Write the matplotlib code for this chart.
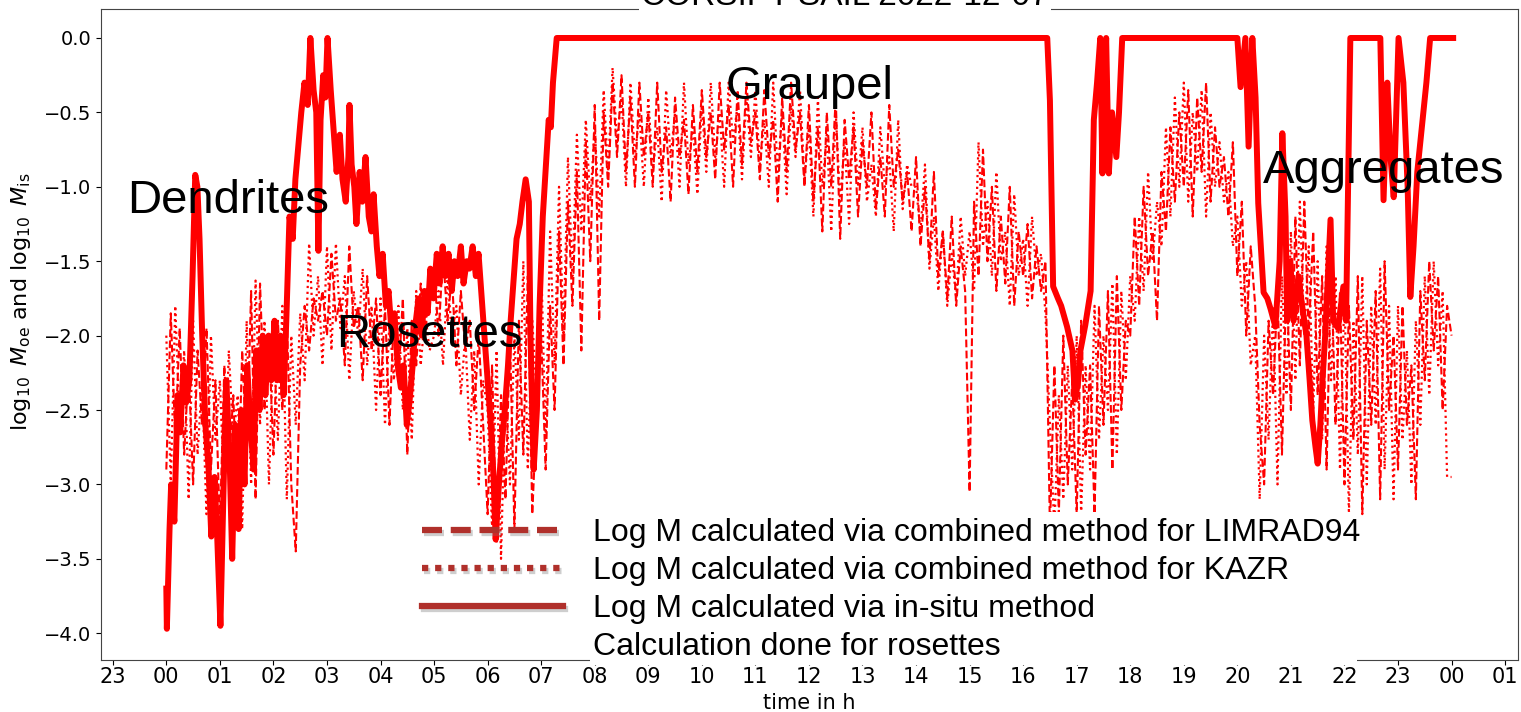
import numpy as np
import matplotlib.pyplot as plt
import matplotlib.patheffects as pe
from matplotlib.lines import Line2D
from matplotlib.patches import Rectangle

# radar retrievals on a 5-minute grid, 00 h to 24 h
t_radar = np.arange(289) / 12.0

logm_limrad = [
    -2.9, -1.85, -2.7, -1.95, -2.8, -2.2, -3.0, -2.1, -2.6, -1.95, -2.9, -2.3,
    -3.3, -2.2, -2.9, -2.4, -3.2, -2.1, -2.8, -1.7, -3.1, -1.65, -2.5, -2.0,
    -2.8, -1.9, -2.5, -1.85, -3.0, -3.45, -2.2, -1.8, -2.1, -1.75, -1.9, -1.7,
    -2.0, -1.45, -1.9, -1.75, -2.2, -1.4, -1.95, -1.8, -2.3, -1.6, -2.1, -1.75,
    -2.4, -1.8, -2.6, -1.85, -2.3, -1.75, -2.8, -1.9, -2.2, -1.65, -2.0, -1.6,
    -1.55, -2.0, -1.45, -1.9, -1.6, -2.2, -1.7, -2.1, -1.9, -2.5, -2.0, -2.6,
    -3.2, -2.2, -3.4, -2.4, -3.1, -2.0, -3.3, -1.9, -2.8, -1.6, -3.2, -2.5,
    -2.0, -2.9, -1.8, -2.5, -1.3, -2.2, -1.1, -1.8, -0.9, -2.1, -0.7, -1.5,
    -0.45, -1.9, -0.5, -1.0, -0.3, -0.8, -0.25, -0.9, -0.4, -1.0, -0.3, -0.8,
    -0.5, -1.0, -0.3, -0.9, -0.6, -1.1, -0.4, -0.8, -0.55, -1.05, -0.45, -0.9,
    -0.35, -0.8, -0.5, -0.95, -0.3, -0.75, -0.45, -1.0, -0.35, -0.85, -0.3, -0.7,
    -0.5, -0.95, -0.35, -0.8, -0.55, -1.1, -0.4, -0.9, -0.3, -0.75, -0.5, -1.0,
    -0.45, -1.1, -0.6, -1.3, -0.5, -1.0, -0.4, -1.35, -0.55, -0.95, -0.6, -1.2,
    -0.7, -1.0, -0.5, -1.15, -0.8, -1.2, -0.45, -1.0, -0.75, -1.1, -0.9, -1.3,
    -0.8, -1.4, -1.0, -1.5, -0.9, -1.6, -1.3, -1.75, -1.2, -1.8, -1.4, -1.7,
    -3.05, -1.1, -1.6, -0.75, -1.5, -1.0, -1.7, -1.2, -1.65, -1.0, -1.8, -1.3,
    -1.6, -1.25, -1.75, -1.4, -1.7, -1.5, -3.3, -2.2, -3.2, -2.0, -3.0, -2.3,
    -3.2, -1.9, -2.8, -2.2, -3.2, -1.8, -2.6, -1.7, -2.9, -1.6, -2.5, -1.9,
    -2.0, -1.2, -1.8, -1.0, -1.6, -1.3, -1.9, -0.9, -1.3, -0.6, -1.1, -0.5,
    -1.0, -0.35, -1.2, -0.4, -0.9, -0.3, -1.1, -0.6, -1.0, -0.8, -1.2, -0.7,
    -1.6, -1.1, -2.0, -1.4, -1.8, -2.6, -3.0, -1.9, -2.4, -1.7, -2.8, -1.6,
    -2.5, -1.2, -2.2, -1.1, -2.0, -1.3, -2.4, -1.6, -2.9, -1.5, -2.6, -1.7,
    -3.0, -1.8, -2.7, -1.6, -3.2, -1.9, -2.6, -1.7, -3.1, -1.5, -2.5, -2.0,
    -2.9, -1.8, -2.6, -2.2, -3.1, -1.7, -2.3, -1.5, -2.1, -1.6, -2.5, -1.8,
    -2.0,
]

logm_kazr = [
    -2.0, -3.0, -1.8, -2.6, -2.1, -3.1, -1.9, -2.8, -2.3, -3.2, -2.0, -2.7,
    -2.3, -3.1, -2.1, -2.7, -2.4, -3.3, -1.9, -3.0, -1.63, -2.6, -1.9, -3.0,
    -2.0, -2.7, -1.8, -3.1, -2.0, -2.6, -1.85, -2.3, -1.38, -2.0, -1.6, -2.2,
    -1.4, -2.1, -1.38, -1.95, -1.6, -2.3, -1.7, -2.0, -1.55, -2.2, -1.8, -2.5,
    -1.75, -2.6, -1.9, -2.3, -1.8, -2.5, -1.95, -2.7, -1.7, -2.2, -1.85, -2.1,
    -2.0, -1.7, -2.2, -1.6, -2.0, -1.8, -2.4, -2.0, -2.7, -2.1, -3.0, -2.3,
    -2.5, -3.3, -2.1, -3.5, -2.3, -3.0, -2.0, -2.7, -1.5, -2.9, -1.9, -2.4,
    -1.5, -2.7, -1.3, -2.2, -1.0, -2.0, -0.8, -1.6, -0.65, -1.3, -0.55, -1.1,
    -0.6, -1.2, -0.35, -0.9, -0.2, -0.7, -0.4, -1.0, -0.3, -0.8, -0.5, -1.0,
    -0.4, -0.9, -0.6, -1.1, -0.35, -0.8, -0.5, -1.0, -0.3, -0.85, -0.6, -1.05,
    -0.45, -0.9, -0.3, -0.8, -0.5, -1.0, -0.3, -0.7, -0.45, -0.95, -0.4, -0.8,
    -0.35, -0.85, -0.55, -1.0, -0.3, -0.9, -0.5, -1.05, -0.45, -0.8, -0.35, -0.95,
    -0.6, -1.2, -0.4, -1.0, -0.65, -1.3, -0.5, -1.1, -0.7, -1.25, -0.5, -1.0,
    -0.6, -1.1, -0.85, -1.2, -0.6, -1.0, -0.8, -1.3, -0.55, -1.15, -0.85, -1.0,
    -1.0, -1.3, -0.85, -1.55, -1.2, -1.7, -1.3, -1.8, -1.45, -1.75, -1.2, -1.6,
    -1.3, -1.7, -0.7, -1.4, -1.1, -1.6, -0.9, -1.5, -1.3, -1.8, -1.05, -1.6,
    -1.35, -1.8, -1.2, -1.6, -1.45, -1.85, -2.6, -3.3, -2.4, -3.1, -2.2, -2.9,
    -2.0, -3.2, -2.2, -2.9, -1.8, -2.7, -2.0, -2.5, -1.65, -2.8, -1.7, -2.3,
    -1.6, -1.9, -1.2, -1.7, -0.9, -1.5, -1.1, -1.4, -0.6, -1.2, -0.4, -1.0,
    -0.3, -1.1, -0.5, -0.9, -0.35, -1.2, -0.5, -1.0, -0.7, -1.1, -0.9, -1.4,
    -1.2, -1.8, -1.5, -2.2, -2.0, -3.1, -2.0, -2.7, -1.8, -3.0, -1.6, -2.4,
    -1.3, -2.3, -1.1, -2.0, -1.4, -2.5, -1.5, -2.7, -1.4, -2.3, -1.6, -2.9,
    -1.7, -3.2, -1.9, -2.8, -1.6, -3.0, -1.8, -2.6, -1.55, -2.9, -1.8, -3.1,
    -1.8, -2.7, -2.1, -3.0, -1.9, -2.6, -1.6, -2.4, -1.5, -2.2, -1.7, -2.95,
    -2.95,
]

# in-situ retrieval, irregular sampling (hours, log10 M)
t_insitu = [
    0.00, 0.01, 0.06, 0.09, 0.15, 0.21, 0.26, 0.32, 0.37, 0.43, 0.49, 0.54,
    0.58, 0.62, 0.67, 0.73, 0.79, 0.84, 0.90, 0.95, 1.01, 1.07, 1.12, 1.18,
    1.23, 1.29, 1.35, 1.40, 1.46, 1.51, 1.57, 1.63, 1.68, 1.74, 1.80, 1.85,
    1.91, 1.96, 2.02, 2.07, 2.13, 2.19, 2.24, 2.30, 2.36, 2.41, 2.47, 2.52,
    2.58, 2.64, 2.69, 2.75, 2.80, 2.84, 2.88, 2.93, 2.97, 3.01, 3.07, 3.12,
    3.18, 3.24, 3.29, 3.35, 3.40, 3.42, 3.46, 3.51, 3.55, 3.61, 3.66, 3.72,
    3.78, 3.83, 3.87, 3.93, 3.98, 4.04, 4.10, 4.15, 4.21, 4.26, 4.32, 4.38,
    4.43, 4.49, 4.54, 4.60, 4.66, 4.71, 4.77, 4.82, 4.88, 4.93, 4.99, 5.05,
    5.10, 5.16, 5.21, 5.27, 5.33, 5.38, 5.44, 5.50, 5.55, 5.61, 5.66, 5.72,
    5.78, 5.83, 5.89, 5.94, 6.00, 6.06, 6.11, 6.15, 6.21, 6.26, 6.32, 6.38,
    6.43, 6.49, 6.54, 6.60, 6.65, 6.71, 6.77, 6.80, 6.86, 6.92, 6.97, 7.03,
    7.08, 7.14, 7.18, 7.22, 7.29, 16.45, 16.50, 16.56, 16.65, 16.71, 16.82, 16.92,
    16.97, 17.03, 17.07, 17.16, 17.26, 17.32, 17.38, 17.44, 17.48, 17.51, 17.55, 17.60,
    17.66, 17.74, 17.79, 17.85, 20.00, 20.06, 20.15, 20.21, 20.28, 20.34, 20.39, 20.49,
    20.56, 20.62, 20.71, 20.79, 20.84, 20.90, 20.93, 20.99, 21.05, 21.14, 21.21, 21.29,
    21.35, 21.40, 21.46, 21.50, 21.55, 21.59, 21.64, 21.74, 21.79, 21.88, 21.98, 22.03,
    22.11, 22.67, 22.73, 22.80, 22.86, 22.92, 23.01, 23.10, 23.18, 23.23, 23.29, 23.36,
    23.46, 23.53, 23.60, 24.03,
]
logm_insitu = [
    -3.70, -3.97, -3.30, -3.00, -3.25, -2.40, -2.65, -2.20, -2.45, -2.30, -1.60, -0.92,
    -1.00, -1.35, -2.00, -2.60, -2.90, -3.35, -2.95, -3.35, -3.95, -3.00, -2.30, -2.80,
    -3.50, -2.60, -3.30, -2.50, -3.00, -2.20, -2.60, -2.90, -2.10, -2.50, -2.00, -2.40,
    -2.00, -2.30, -1.90, -2.30, -2.00, -2.40, -1.90, -1.20, -1.35, -0.95, -0.70, -0.50,
    -0.30, -0.45, 0.00, -0.35, -0.50, -1.43, -0.55, -0.25, -0.40, 0.00, -0.35, -0.60,
    -0.90, -0.65, -0.95, -1.10, -0.80, -0.45, -0.85, -1.00, -1.25, -0.90, -1.10, -0.80,
    -1.20, -1.30, -1.05, -1.40, -1.60, -1.45, -1.80, -1.70, -2.00, -1.85, -2.20, -2.35,
    -2.20, -2.60, -2.45, -2.20, -1.90, -1.75, -2.00, -1.70, -1.85, -1.55, -1.75, -1.45,
    -1.65, -1.40, -1.60, -1.45, -1.70, -1.50, -1.60, -1.40, -1.65, -1.50, -1.55, -1.40,
    -1.60, -1.45, -1.75, -2.00, -2.30, -2.60, -2.95, -3.37, -3.00, -2.75, -2.50, -2.20,
    -1.90, -1.60, -1.35, -1.25, -1.10, -0.95, -1.10, -2.00, -2.90, -2.50, -1.80, -1.20,
    -0.90, -0.55, -0.60, -0.30, 0.00, 0.00, -0.42, -1.67, -1.75, -1.80, -1.94, -2.10,
    -2.43, -2.30, -2.10, -1.93, -1.70, -0.55, -0.30, 0.00, -0.91, -0.40, 0.00, -0.91,
    -0.50, -0.80, -0.50, 0.00, 0.00, -0.33, 0.00, -0.73, 0.00, -0.40, -1.11, -1.71,
    -1.75, -1.82, -1.94, -1.50, -0.64, -1.20, -1.90, -1.50, -1.90, -1.60, -1.80, -2.00,
    -2.30, -2.57, -2.75, -2.86, -2.60, -2.30, -2.00, -1.22, -1.90, -1.95, -1.67, -1.90,
    0.00, 0.00, -1.09, -0.30, -0.80, -1.07, 0.00, -0.30, -1.00, -1.74, -1.40, -0.90,
    -0.55, -0.30, 0.00, 0.00,
]

hour_ticks = np.arange(-1, 26)
hour_labels = ["%02d" % (h % 24) for h in hour_ticks]

labels = [
    "Log M calculated via combined method for LIMRAD94",
    "Log M calculated via combined method for KAZR",
    "Log M calculated via in-situ method",
    "Calculation done for rosettes",
]

habits = ["Dendrites", "Rosettes", "Graupel", "Aggregates"]
habit_pos = [(-0.73, -1.176), (3.18, -2.077), (10.45, -0.41), (20.47, -0.975)]

fig = plt.figure(figsize=(15.21, 7.12), dpi=100)
ax = fig.add_axes([0.0664, 0.0730, 0.9316, 0.9144])

ax.plot(t_radar, logm_limrad, color="red", ls="--", lw=1.5)
ax.plot(t_radar, logm_kazr, color="red", ls=":", lw=1.6)
ax.plot(t_insitu, logm_insitu, color="red", ls="-", lw=4.3, solid_joinstyle="round")

for name, (x, y) in zip(habits, habit_pos):
    ax.text(x, y, name, fontsize=34, family="Liberation Sans", ha="left", va="baseline", zorder=6)

ax.set_xlim(-1.22, 25.24)
ax.set_ylim(-4.18, 0.195)
ax.set_xticks(hour_ticks)
ax.set_xticklabels(hour_labels, fontsize=15)
ax.tick_params(axis="x", pad=1.5)
ax.set_yticks(np.arange(-4.0, 0.01, 0.5))
ax.tick_params(axis="y", labelsize=14)
for s in ax.spines.values():
    s.set_color("#444444")

ax.set_ylabel(r"$\log_{10}\ M_{\rm oe}$ and $\log_{10}\ M_{\rm is}$", fontsize=16)
ax.yaxis.set_label_coords(-0.048, 0.55)
ax.set_xlabel("time in h", fontsize=15)
ax.xaxis.set_label_coords(0.5, -0.05)

# white panel behind the legend text
fig.add_artist(Rectangle((590 / 1521, 1 - 665 / 712), 767 / 1521, 153 / 712,
                         transform=fig.transFigure, facecolor="white",
                         edgecolor="none", zorder=1))

shadow = [pe.SimpleLineShadow(offset=(1.5, -2.5), shadow_color="0.45", alpha=0.35), pe.Normal()]
hcol = "#b0302b"
handles = [
    Line2D([], [], color=hcol, lw=4.5, ls=(0, (3.2, 1.4)), path_effects=shadow),
    Line2D([], [], color=hcol, lw=4.5, ls=(0, (1, 1.1)), path_effects=shadow),
    Line2D([], [], color=hcol, lw=4.5, ls="-", path_effects=shadow),
    Line2D([], [], color="none", lw=0),
]
fig.legend(handles, labels, loc="upper left", bbox_to_anchor=(422 / 1521, 1 - 518 / 712),
           bbox_transform=fig.transFigure, frameon=False, borderpad=0, borderaxespad=0,
           handlelength=4.4, handletextpad=0.94, labelspacing=0.25,
           prop={"family": "Liberation Sans", "size": 23})

fig.text(845 / 1521, 1 - 5 / 712, "CORSIPT SAIL 2022-12-07", fontsize=24,
         family="Liberation Sans", ha="center", va="baseline",
         bbox=dict(facecolor="white", edgecolor="none", pad=2))

fig.savefig("out.png", dpi=100)
